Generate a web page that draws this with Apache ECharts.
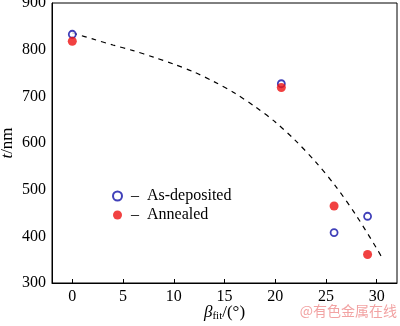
<!DOCTYPE html>
<html><head><meta charset="utf-8">
<script src="https://cdn.jsdelivr.net/npm/echarts@6/dist/echarts.min.js"></script>
<style>html,body{margin:0;padding:0;background:#fff}#c{width:400px;height:326px}</style>
</head><body><div id="c"></div>
<script>
var xTicks = [0, 5, 10, 15, 20, 25, 30];
var asDeposited = [[0, 833], [20.6, 727], [25.8, 408], [29.1, 443]];
var annealed = [[0, 818], [20.6, 719], [25.8, 465], [29.1, 361]];
var fitCurve = [[0, 836], [2, 823], [4, 810], [6, 798], [8, 784], [10, 769], [12, 752], [14, 731], [16, 707], [18, 678], [20, 645], [22, 605], [24, 559], [26, 506], [28, 444], [30, 374], [30.5, 355]];
var seriesNames = ['As-deposited', 'Annealed'];

var serif = 'Liberation Serif';
var chart = echarts.init(document.getElementById('c'));
chart.setOption({
  animation: false,
  backgroundColor: '#fff',
  grid: { left: 52, right: 3, top: 3, bottom: 43, show: true, borderColor: '#000', borderWidth: 1, outerBoundsMode: 'none', containLabel: false },
  xAxis: {
    type: 'value', min: -2, max: 32,
    axisLine: { show: true, onZero: false, lineStyle: { color: '#000', width: 1 } },
    axisTick: { show: true, inside: true, length: 4, lineStyle: { color: '#000' }, customValues: xTicks },
    axisLabel: { color: '#000', fontFamily: serif, fontSize: 16, margin: 6, customValues: xTicks },
    splitLine: { show: false },
    name: '{b|β}{s|fit}{n|/(°)}', nameLocation: 'middle', nameGap: 20, nameMoveOverlap: false,
    nameTextStyle: {
      rich: {
        b: { fontFamily: serif, fontStyle: 'italic', fontSize: 17, color: '#000' },
        s: { fontFamily: serif, fontSize: 11, color: '#000', verticalAlign: 'bottom', padding: [8, 0, 0, 0] },
        n: { fontFamily: serif, fontSize: 17, color: '#000' }
      }
    }
  },
  yAxis: {
    type: 'value', min: 300, max: 900, interval: 100,
    axisLine: { show: true, onZero: false, lineStyle: { color: '#000', width: 1 } },
    axisTick: { show: false },
    axisLabel: { color: '#000', fontFamily: serif, fontSize: 16, margin: 6 },
    splitLine: { show: false },
    name: '{i|t}{n|/nm}', nameLocation: 'middle', nameGap: 36, nameMoveOverlap: false,
    nameTextStyle: {
      rich: {
        i: { fontFamily: serif, fontStyle: 'italic', fontSize: 17, color: '#000' },
        n: { fontFamily: serif, fontSize: 17, color: '#000' }
      }
    }
  },
  legend: {
    orient: 'vertical', left: 107, top: 183, itemGap: 3, itemWidth: 9, itemHeight: 9,
    icon: 'circle', data: seriesNames,
    formatter: function (n) { return ' \u2013  ' + n; },
    textStyle: { fontFamily: serif, fontSize: 16, color: '#000', lineHeight: 16 }
  },
  graphic: [{
    type: 'text', right: 3, top: 304,
    style: { text: '@有色金属在线', fontFamily: 'Noto Sans CJK SC', fontSize: 14, fill: '#f2a3a3' }
  }],
  series: [
    {
      type: 'line', data: fitCurve, smooth: 0.3, symbol: 'none', silent: true,
      lineStyle: { color: '#000', width: 1.2, type: [5, 5] }, z: 1
    },
    {
      name: seriesNames[0], type: 'scatter', data: asDeposited, symbol: 'circle', symbolSize: 7,
      itemStyle: { color: '#fff', borderColor: '#1010a8', borderWidth: 1.8 }, z: 2
    },
    {
      name: seriesNames[1], type: 'scatter', data: annealed, symbol: 'circle', symbolSize: 9,
      itemStyle: { color: '#ee1111' }, z: 3
    }
  ]
});
</script></body></html>
